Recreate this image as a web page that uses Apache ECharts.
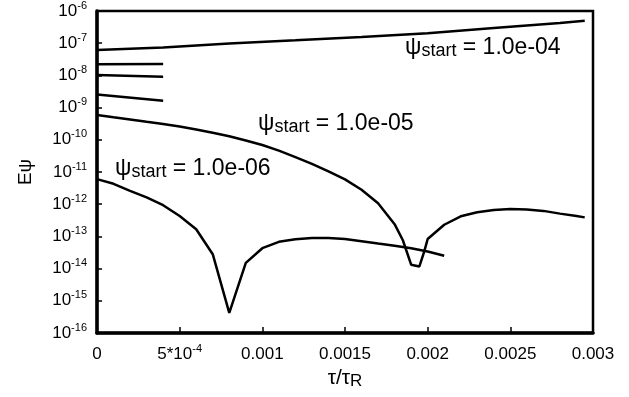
<!DOCTYPE html>
<html>
<head>
<meta charset="utf-8">
<title>E psi vs tau</title>
<script src="https://cdn.jsdelivr.net/npm/echarts@6/dist/echarts.min.js"></script>
<style>
    html, body { margin: 0; padding: 0; background: #fff; }
    #chart { width: 629px; height: 397px; }
</style>
</head>
<body>
<div id="chart"></div>
<script>
// tau/tauR values and E psi
var tStartA = [0, 0.0004, 0.0008, 0.0012, 0.0016, 0.002, 0.0024, 0.0028, 0.00295];
var ePsiA = [6.2e-8, 7.4e-8, 9.8e-8, 1.23e-7, 1.55e-7, 2.04e-7, 2.95e-7, 4.27e-7, 5.0e-7];

var tShort = [0, 0.0004];
var ePsiS1 = [2.2e-8, 2.24e-8];
var ePsiS2 = [1.02e-8, 9.1e-9];
var ePsiS3 = [2.57e-9, 1.62e-9];

var tStartB = [0, 0.0001, 0.0002, 0.0003, 0.0004, 0.0005, 0.0006, 0.0007, 0.0008, 0.0009,
    0.001, 0.0011, 0.0012, 0.0013, 0.0014, 0.0015, 0.0016, 0.0017, 0.0018, 0.00185,
    0.0019, 0.00195, 0.00198, 0.002, 0.0021, 0.0022, 0.0023, 0.0024, 0.0025, 0.0026,
    0.0027, 0.0028, 0.0029, 0.00295];
var ePsiB = [5.9e-10, 5.0e-10, 4.27e-10, 3.63e-10, 3.09e-10, 2.57e-10, 2.09e-10, 1.66e-10, 1.29e-10, 9.5e-11,
    6.9e-11, 4.6e-11, 2.9e-11, 1.78e-11, 1.05e-11, 5.9e-12, 2.8e-12, 1.07e-12, 2.4e-13, 7.6e-14,
    1.32e-14, 1.17e-14, 3.5e-14, 8.3e-14, 2.3e-13, 4.2e-13, 5.6e-13, 6.6e-13, 7.1e-13, 6.8e-13,
    6.2e-13, 5.1e-13, 4.3e-13, 3.9e-13];

var tStartC = [0, 0.0001, 0.0002, 0.0003, 0.0004, 0.0005, 0.0006, 0.0007, 0.0008, 0.0009,
    0.001, 0.0011, 0.0012, 0.0013, 0.0014, 0.0015, 0.0016, 0.0017, 0.0018, 0.0019,
    0.002, 0.0021];
var ePsiC = [6.0e-12, 4.3e-12, 2.6e-12, 1.62e-12, 9.3e-13, 4.3e-13, 1.66e-13, 2.8e-14, 4.2e-16, 1.5e-14,
    4.3e-14, 6.8e-14, 8.1e-14, 8.9e-14, 8.9e-14, 8.3e-14, 7.1e-14, 6.0e-14, 5.1e-14, 4.3e-14,
    3.4e-14, 2.5e-14];

var xTickLabels = ['0', '5*10^-4', '0.001', '0.0015', '0.002', '0.0025', '0.003'];
var curveLabels = ['1.0e-04', '1.0e-05', '1.0e-06'];

var FONT = 'Liberation Sans, Arial, Helvetica, sans-serif';

function zip(xs, ys) {
    var out = [];
    for (var i = 0; i < xs.length; i++) {
        out.push([xs[i], ys[i]]);
    }
    return out;
}

function lineSeries(xs, ys) {
    return {
        type: 'line',
        data: zip(xs, ys),
        symbol: 'none',
        silent: true,
        lineStyle: { color: '#000', width: 2.5 }
    };
}

function supText(str) {
    // "5*10^-4" -> rich text with a superscript
    var p = str.split('^');
    if (p.length < 2) {
        return '{b|' + str + '}';
    }
    return '{b|' + p[0] + '}{s|' + p[1] + '}';
}

function psiLabel(left, top, value) {
    return {
        type: 'text',
        left: left,
        top: top,
        silent: true,
        style: {
            text: '{p|ψ}{s|start}{n| = ' + value + '}',
            rich: {
                p: { fontFamily: FONT, fontSize: 23, lineHeight: 26, fill: '#000' },
                s: { fontFamily: FONT, fontSize: 18, lineHeight: 14, verticalAlign: 'bottom', fill: '#000' },
                n: { fontFamily: FONT, fontSize: 23, lineHeight: 26, fill: '#000' }
            }
        }
    };
}

function init() {
    var chart = echarts.init(document.getElementById('chart'));
    var option = {
        animation: false,
        backgroundColor: '#fff',
        grid: {
            left: 97, right: 36, top: 11, bottom: 64,
            outerBoundsMode: 'none',
            containLabel: false,
            show: true, borderColor: '#000', borderWidth: 2.5
        },
        xAxis: {
            type: 'value',
            min: 0,
            max: 0.003,
            interval: 0.0005,
            name: '{t|τ/τ}{r|R}',
            nameLocation: 'middle',
            nameGap: 33,
            nameTextStyle: {
                rich: {
                    t: { fontFamily: FONT, fontSize: 21, lineHeight: 24, color: '#000' },
                    r: { fontFamily: FONT, fontSize: 17, lineHeight: 14, verticalAlign: 'bottom', color: '#000' }
                }
            },
            axisLine: { lineStyle: { color: '#000', width: 3.5 } },
            axisTick: { inside: true, length: 6, lineStyle: { color: '#000', width: 1.5 } },
            splitLine: { show: false },
            axisLabel: {
                margin: 10,
                fontFamily: FONT,
                fontSize: 17,
                color: '#000',
                formatter: function (v) {
                    var i = Math.round(v / 0.0005);
                    return supText(xTickLabels[i]);
                },
                rich: {
                    b: { fontFamily: FONT, fontSize: 17, lineHeight: 22, color: '#000' },
                    s: { fontFamily: FONT, fontSize: 11, lineHeight: 12, verticalAlign: 'top', color: '#000' }
                }
            }
        },
        yAxis: {
            type: 'log',
            logBase: 10,
            min: 1e-16,
            max: 1e-6,
            interval: 1,
            name: 'Eψ',
            nameLocation: 'middle',
            nameGap: 62,
            nameTextStyle: { fontFamily: FONT, fontSize: 19, color: '#000' },
            axisLine: { lineStyle: { color: '#000', width: 3.5 } },
            axisTick: { inside: true, length: 5, lineStyle: { color: '#000', width: 1.5 } },
            splitLine: { show: false },
            axisLabel: {
                margin: 10,
                color: '#000',
                formatter: function (v) {
                    var e = Math.round(Math.log(v) / Math.LN10);
                    return '{b|10}{s|' + e + '}';
                },
                rich: {
                    b: { fontFamily: FONT, fontSize: 17, lineHeight: 22, color: '#000' },
                    s: { fontFamily: FONT, fontSize: 11, lineHeight: 12, verticalAlign: 'top', color: '#000' }
                }
            }
        },
        series: [
            lineSeries(tStartA, ePsiA),
            lineSeries(tShort, ePsiS1),
            lineSeries(tShort, ePsiS2),
            lineSeries(tShort, ePsiS3),
            lineSeries(tStartB, ePsiB),
            lineSeries(tStartC, ePsiC)
        ],
        graphic: [
            psiLabel(405, 36, curveLabels[0]),
            psiLabel(258, 112, curveLabels[1]),
            psiLabel(115, 157, curveLabels[2])
        ]
    };
    chart.setOption(option);
}

init();
</script>
</body>
</html>
